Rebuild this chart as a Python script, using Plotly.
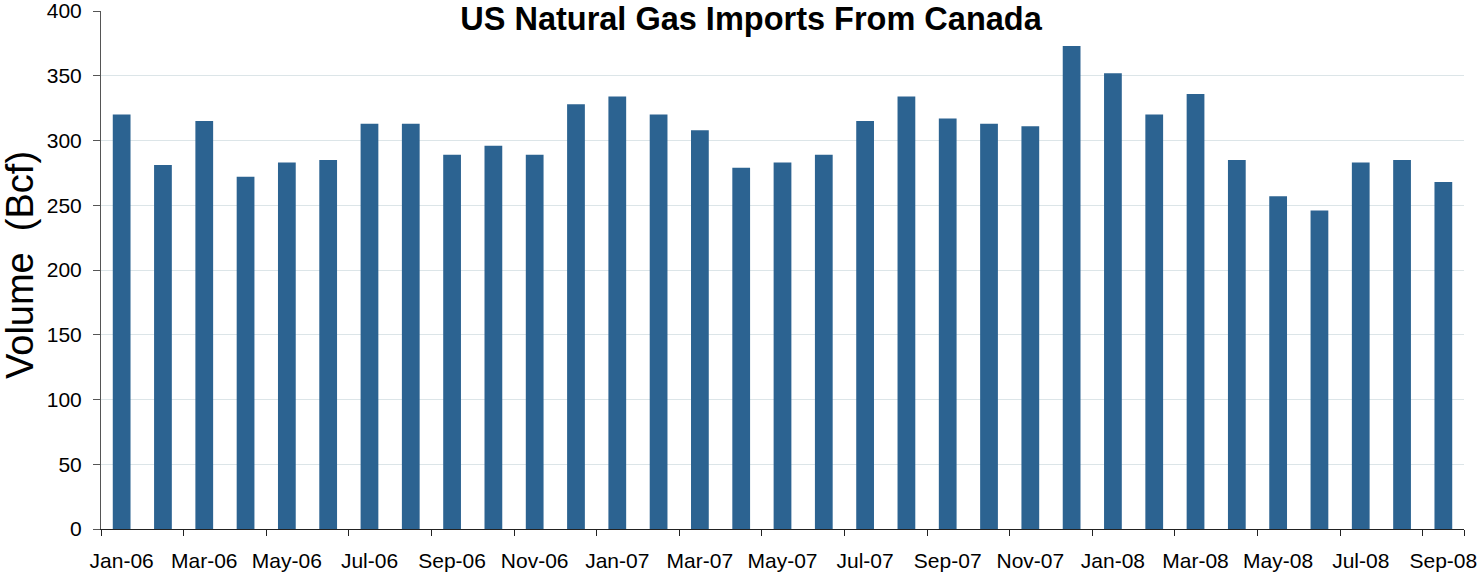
import plotly.graph_objects as go

months = ["Jan-06", "Feb-06", "Mar-06", "Apr-06", "May-06", "Jun-06", "Jul-06", "Aug-06",
          "Sep-06", "Oct-06", "Nov-06", "Dec-06", "Jan-07", "Feb-07", "Mar-07", "Apr-07",
          "May-07", "Jun-07", "Jul-07", "Aug-07", "Sep-07", "Oct-07", "Nov-07", "Dec-07",
          "Jan-08", "Feb-08", "Mar-08", "Apr-08", "May-08", "Jun-08", "Jul-08", "Aug-08",
          "Sep-08"]
volume_bcf = [320, 281, 315, 272, 283, 285, 313, 313, 289, 296, 289, 328, 334, 320, 308, 279,
              283, 289, 315, 334, 317, 313, 311, 373, 352, 320, 336, 285, 257, 246, 283, 285,
              268]
tick_labels = months[::2]
y_ticks = list(range(0, 401, 50))

W, H = 1480, 573
ml, mr, mt, mb = 101, 16, 11, 44

fig = go.Figure(go.Bar(x=months, y=volume_bcf, marker=dict(color="#2c6391", line=dict(width=0))))

fig.update_layout(
    width=W, height=H,
    margin=dict(l=ml, r=mr, t=mt, b=mb, autoexpand=False),
    paper_bgcolor="white", plot_bgcolor="white",
    bargap=0.57,
    showlegend=False,
    font=dict(family="Liberation Sans, Arial, sans-serif", color="black"),
    title=dict(text="<b>US Natural Gas Imports From Canada</b>",
               font=dict(size=32.5, color="black"),
               x=751 / W, xref="container", xanchor="center",
               y=1 - 18.5 / H, yref="container", yanchor="middle"),
)
fig.update_xaxes(
    type="category",
    tickmode="array", tickvals=tick_labels, ticktext=tick_labels,
    tickson="boundaries", tickangle=0, automargin=False,
    ticks="outside", ticklen=6, tickcolor="#222", tickwidth=1,
    ticklabelstandoff=13, ticklabeloverflow="allow",
    showline=True, linecolor="#222", linewidth=1,
    tickfont=dict(size=21),
    showgrid=False,
)
fig.update_yaxes(
    range=[0, 400], tickvals=y_ticks, automargin=False,
    ticks="outside", ticklen=7, tickcolor="#555", tickwidth=1,
    ticklabelstandoff=7, ticklabeloverflow="allow",
    showline=True, linecolor="#555", linewidth=1,
    showgrid=True, gridcolor="#dce5e8", gridwidth=1,
    tickfont=dict(size=21),
    zeroline=False,
)
fig.add_annotation(text="Volume  (Bcf)", textangle=-90, xref="paper", yref="paper",
                   x=-81 / (W - ml - mr), y=(H - mb - 265) / (H - mt - mb),
                   xanchor="center", yanchor="middle", showarrow=False,
                   font=dict(size=38, color="black"))

fig.write_html("out.html", config={"displayModeBar": False},
               post_script="document.body.style.margin='0';")
